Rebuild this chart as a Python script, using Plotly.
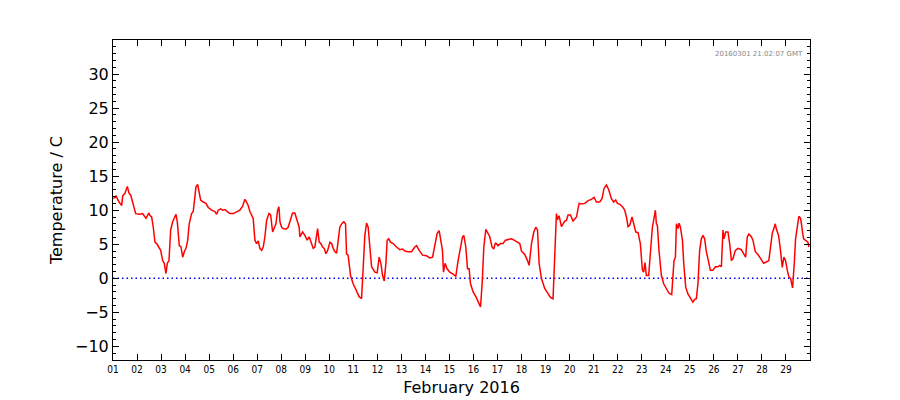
import pandas as pd
import plotly.graph_objects as go

# Hours since 2016-02-01 00:00 GMT
hours = [0.3, 3.0, 6.0, 8.7, 9.7, 12.0, 14.3, 16.0, 17.7, 20.3, 22.7, 26.9, 29.6, 32.9, 35.9, 36.9, 38.6,
         40.2, 41.9, 43.6, 45.2, 47.6, 49.6, 51.2, 52.9, 54.2, 55.9, 57.6, 59.6, 61.2, 62.9, 64.2, 66.2,
         67.9, 69.6, 71.2, 72.9, 74.6, 76.1, 78.5, 80.1, 81.8, 82.8, 84.5, 85.8, 87.5, 90.1, 92.8, 95.1,
         98.5, 101.8, 103.5, 105.1, 107.5, 109.5, 111.8, 114.1, 116.8, 120.1, 123.5, 126.7, 129.4, 131.7,
         133.4, 135.0, 136.7, 138.4, 140.0, 141.7, 143.4, 145.0, 146.7, 148.4, 150.0, 151.7, 153.4, 155.7,
         157.4, 159.4, 160.7, 162.7, 164.4, 165.7, 166.7, 168.4, 170.0, 172.7, 174.9, 177.3, 179.3, 181.6,
         183.3, 185.9, 186.6, 189.3, 191.6, 193.9, 195.9, 198.3, 199.9, 201.6, 203.3, 204.3, 205.9, 207.6,
         209.3, 210.9, 212.6, 214.3, 216.6, 218.3, 219.9, 221.6, 223.3, 224.9, 226.5, 228.8, 230.5, 232.2,
         233.2, 234.8, 237.2, 239.8, 243.2, 245.8, 248.2, 249.8, 251.5, 253.2, 254.8, 258.2, 259.8, 261.5,
         263.8, 265.8, 267.5, 269.2, 270.8, 272.5, 273.8, 275.4, 277.1, 279.7, 283.1, 286.4, 289.1, 291.4,
         294.7, 298.1, 301.4, 303.1, 305.7, 309.1, 313.1, 316.4, 319.1, 321.4, 323.7, 325.7, 327.3, 329.0,
         330.0, 331.6, 333.6, 336.3, 339.6, 342.3, 344.6, 347.0, 349.0, 350.3, 352.3, 354.0, 355.6, 357.0,
         359.6, 362.3, 364.6, 367.0, 368.6, 370.3, 372.3, 374.0, 376.2, 378.5, 380.2, 381.9, 384.5, 386.9,
         389.5, 391.9, 394.5, 397.9, 400.5, 403.5, 406.2, 407.9, 411.2, 413.9, 415.5, 417.9, 420.2, 422.2,
         423.9, 425.5, 427.8, 431.1, 434.4, 436.8, 439.4, 441.1, 442.8, 443.8, 445.4, 447.8, 451.1, 452.8,
         454.4, 456.8, 459.4, 462.8, 465.4, 467.7, 471.1, 474.4, 477.7, 480.4, 482.7, 486.0, 488.3, 490.3,
         492.7, 495.0, 497.7, 500.0, 502.0, 503.7, 506.0, 509.3, 511.0, 512.7, 514.3, 516.0, 518.3, 520.0,
         522.0, 524.3, 526.6, 528.6, 529.9, 531.2, 532.6, 534.9, 536.6, 538.6, 540.2, 541.6, 542.6, 543.6,
         545.2, 547.6, 549.9, 552.6, 555.2, 557.9, 560.2, 561.6, 562.6, 564.2, 565.2, 566.6, 568.6, 569.9,
         571.9, 574.1, 576.8, 579.1, 580.8, 582.5, 584.1, 585.8, 587.5, 589.1, 590.8, 592.5, 594.5, 596.5,
         599.1, 601.5, 604.1, 605.8, 607.5, 609.1, 610.1, 611.8, 614.1, 615.8, 617.5, 619.1, 621.5, 624.1,
         627.4, 630.0, 631.7, 633.4, 635.0, 637.4, 639.0, 641.4, 644.0, 646.7, 649.7, 652.3, 654.9, 656.6,
         658.3, 659.9, 661.3, 662.3, 664.6, 666.3, 668.3, 669.9, 671.6, 673.3, 674.9, 676.6, 678.6, 680.3,
         681.6, 683.3, 684.9, 686.6, 687.9, 689.6, 692.3, 693.9, 694.9]

temps = [11.7, 12.1, 11.2, 10.7, 12.1, 12.5, 13.5, 12.5, 12.2, 10.7, 9.5, 9.4, 9.5, 8.8, 9.6, 9.2, 9.0,
         7.5, 5.3, 5.1, 4.6, 4.1, 2.6, 2.2, 0.7, 2.2, 2.6, 7.1, 8.3, 9.0, 9.4, 8.3, 4.8,
         4.6, 3.1, 3.9, 4.4, 5.6, 8.0, 9.5, 9.8, 12.0, 13.4, 13.8, 12.9, 11.5, 11.2, 11.0, 10.4,
         10.0, 9.8, 9.4, 10.0, 10.2, 10.0, 10.1, 9.8, 9.5, 9.5, 9.7, 10.0, 10.6, 11.6,
         11.2, 10.7, 9.8, 9.2, 8.8, 5.6, 5.1, 5.5, 4.4, 4.1, 4.6, 6.1, 8.5, 9.5,
         9.3, 6.8, 7.3, 8.0, 10.0, 10.5, 8.3, 7.5, 7.3, 7.2, 7.5, 8.5, 9.6, 9.6,
         8.8, 7.5, 6.1, 6.8, 6.3, 5.6, 6.1, 5.1, 4.4, 4.6, 6.1, 7.3, 5.3, 5.1,
         4.6, 4.4, 3.6, 4.1, 5.3, 5.1, 4.4, 3.9, 3.7, 6.1, 7.5, 8.1, 8.3, 8.0,
         3.6, 3.4, 0.4, -0.8, -2.0, -2.7, -3.0, 2.2, 6.3, 8.1, 7.5, 1.7, 1.4, 0.9,
         0.8, 3.1, 2.2, 0.4, -0.4, 2.2, 5.6, 5.8, 5.3, 5.1, 4.6, 4.2, 4.3, 4.0,
         3.9, 3.9, 4.6, 4.8, 4.1, 3.4, 3.3, 3.0, 3.1, 5.1, 6.6, 7.0, 5.8, 4.1,
         0.9, 2.2, 1.4, 0.9, 0.6, 0.3, 2.6, 4.8, 6.1, 6.3, 4.6, 1.4, 1.4, -0.8,
         -2.0, -2.7, -3.5, -4.2, -0.8, 4.6, 7.2, 6.8, 6.1, 4.6, 4.3, 5.2, 4.8, 5.1,
         5.1, 5.6, 5.7, 5.8, 5.6, 5.3, 5.1, 4.0, 3.5, 2.6, 1.9, 5.1, 6.8, 7.5,
         7.1, 2.2, 0.0, -1.5, -2.3, -2.8, -3.0, 2.2, 9.5, 8.6, 9.2, 7.6, 8.4, 8.5,
         9.3, 9.3, 8.4, 9.0, 11.0, 10.9, 11.0, 11.4, 11.6, 11.9, 11.2, 11.2, 11.7, 13.2,
         13.7, 13.0, 11.7, 11.2, 11.5, 11.0, 10.9, 10.4, 10.0, 9.0, 7.6, 7.8, 9.0, 8.0,
         6.8, 6.7, 5.1, 1.2, 0.9, 2.3, 0.4, 0.4, 4.1, 7.5, 8.8, 10.0, 8.0, 7.8,
         4.1, 0.4, -0.8, -1.5, -2.2, -2.4, 2.6, 3.1, 8.0, 7.3, 8.1, 7.5, 5.6, 2.2,
         -1.3, -2.3, -3.0, -3.5, -3.1, -3.0, -0.8, 4.1, 5.8, 6.3, 5.8, 3.9, 2.6, 1.2,
         1.2, 1.7, 1.7, 1.9, 1.7, 7.1, 5.8, 6.8, 6.8, 5.1, 2.6, 2.9, 4.1, 4.4,
         4.2, 3.6, 3.1, 6.1, 6.5, 6.1, 5.6, 3.9, 3.5, 2.9, 2.2, 2.4, 2.6, 4.6,
         6.6, 7.3, 8.0, 7.3, 6.3, 4.4, 1.6, 3.1, 2.6, 1.2, 0.2, 0.0, -1.4, 2.2,
         5.8, 7.5, 9.1, 8.8, 7.5, 5.8, 5.5, 5.3, 4.6]

day_labels = ["%02d" % d for d in range(1, 30)]
y_ticks = [-10, -5, 0, 5, 10, 15, 20, 25, 30]
stamp = "20160301 21:02:07 GMT"

start = pd.Timestamp("2016-02-01 00:00:00")
times = [start + pd.Timedelta(hours=h) for h in hours]
day_vals = [start + pd.Timedelta(days=i) for i in range(29)]
end = pd.Timestamp("2016-03-01 00:00:00")

fig = go.Figure()
fig.add_trace(go.Scatter(x=[start, end], y=[0, 0], mode="lines",
                         line=dict(color="blue", width=1.5, dash="1.5px,3px"),
                         hoverinfo="skip", showlegend=False))
fig.add_trace(go.Scatter(x=times, y=temps, mode="lines",
                         line=dict(color="red", width=1.5), showlegend=False))

fig.add_annotation(x=1, y=1, xref="paper", yref="paper", xanchor="right", yanchor="top",
                   xshift=-5, yshift=-8, text=stamp, showarrow=False,
                   font=dict(size=7, color="#888888", family="DejaVu Sans"))

fig.update_layout(
    width=900, height=400,
    margin=dict(l=113, r=90, t=40, b=40),
    paper_bgcolor="white", plot_bgcolor="white",
    showlegend=False,
    font=dict(family="DejaVu Sans", color="black"),
)
fig.update_xaxes(
    type="date", range=[start, end], automargin=False,
    tickmode="array", tickvals=day_vals, ticktext=day_labels,
    ticks="inside", ticklen=6, tickcolor="black", tickwidth=1,
    showline=True, linecolor="black", linewidth=1, mirror="ticks",
    showgrid=False, zeroline=False,
    tickfont=dict(size=10, family="DejaVu Sans Condensed, DejaVu Sans"),
    title=dict(text="February 2016", font=dict(size=16), standoff=7),
)
fig.update_yaxes(
    range=[-12, 35], automargin=False,
    tickmode="array", tickvals=y_ticks,
    ticks="inside", ticklen=6, tickcolor="black", tickwidth=1,
    minor=dict(dtick=1, tick0=0, ticks="inside", ticklen=3, tickcolor="black", showgrid=False),
    showline=True, linecolor="black", linewidth=1, mirror="ticks",
    showgrid=False, zeroline=False,
    tickfont=dict(size=16),
    title=dict(text="Temperature / C", font=dict(size=16), standoff=8),
)

fig.write_html("out.html")
